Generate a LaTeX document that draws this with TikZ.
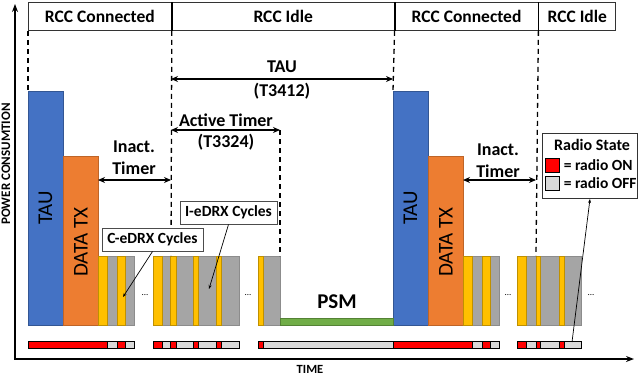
\documentclass[tikz,border=0pt]{standalone}
\usepackage{fontspec}
\setmainfont{Carlito}
\usepackage{xcolor}
\usepackage{tikz}
\usetikzlibrary{arrows.meta, positioning}
\definecolor{taublue}{HTML}{4472C4}
\definecolor{txorange}{HTML}{ED7D31}
\definecolor{rxyellow}{HTML}{FFC000}
\definecolor{sleepgray}{HTML}{A5A5A5}
\definecolor{psmgreen}{HTML}{70AD47}
\definecolor{radioon}{HTML}{FF0000}
\definecolor{radiooff}{HTML}{D9D9D9}
\newcommand{\fsz}[1]{\fontsize{#1}{#1}\selectfont}
\tikzstyle{hdr} = [rectangle, draw=black!80, line width=0.8pt, minimum height=28pt, inner sep=0pt, font=\bfseries\fsz{17.5}]
\tikzstyle{divider} = [draw, line width=1.8pt]
\tikzstyle{guide} = [draw, line width=1.3pt, dash pattern=on 5pt off 4pt]
\tikzstyle{dim} = [draw, line width=1.5pt, {Stealth[length=7pt,width=6pt]}-{Stealth[length=7pt,width=6pt]}]
\tikzstyle{axis} = [draw, line width=1.8pt, {Stealth[length=8pt,width=6pt]}-{Stealth[length=8pt,width=6pt]}]
\tikzstyle{pointer} = [draw, line width=0.7pt, -{Stealth[length=4pt,width=3pt]}]
\tikzstyle{callout} = [rectangle, draw=black!70, line width=1pt, fill=white, minimum height=23pt, inner sep=2pt, font=\bfseries\fsz{15.5}]
\tikzstyle{taubar} = [draw=taublue!75!black, fill=taublue]
\tikzstyle{txbar} = [draw=txorange!80!black, fill=txorange]
\tikzstyle{offbar} = [draw=black!45, fill=sleepgray]
\tikzstyle{onbar} = [draw=rxyellow!75!black, fill=rxyellow]
\tikzstyle{stripoff} = [draw=black, line width=0.6pt, fill=radiooff]
\tikzstyle{stripon} = [draw=black, line width=0.6pt, fill=radioon]
\tikzstyle{bartext} = [font=\fsz{21}, rotate=90]
\tikzstyle{timerlabel} = [font=\bfseries\fsz{18}]
\tikzstyle{dots} = [font=\fsz{9}]

\begin{document}
\begin{tikzpicture}[x=1pt, y=-1pt]
    \useasboundingbox (0,0) rectangle (640,375);

    % Header
    \node [hdr, minimum width=143pt, anchor=north west] (conn1) at (28,2) {RCC Connected};
    \node [hdr, minimum width=222pt, anchor=west] (idle1) at (conn1.east) {RCC Idle};
    \node [hdr, minimum width=143pt, anchor=west] (conn2) at (idle1.east) {RCC Connected};
    \node [hdr, minimum width=77pt, anchor=west] (idle2) at (conn2.east) {RCC Idle};
    \path [divider] (idle1.north west) -- (idle1.south west);
    \path [divider] (conn2.north west) -- (conn2.south west);
    \path [divider] (idle2.north west) -- (idle2.south west);

    % Axes
    \coordinate (ytop) at (15,4);
    \coordinate (origin) at (15,359);
    \coordinate (xend) at (634,359);
    \path [axis] (ytop) -- (origin) -- (xend);
    \node [font=\bfseries\fsz{13}, rotate=90] (ylabel) at (6,164) {POWER CONSUMTION};
    \node [font=\bfseries\fsz{12.5}] (xlabel) at (310,369) {TIME};

    % Bars
    \draw [taubar] (28,91) rectangle (63,325);
    \draw [txbar] (63,156) rectangle (98,325);
    \draw [taubar] (393,91) rectangle (428,325);
    \draw [txbar] (428,156) rectangle (463,325);
    \node [bartext] (tau1) at (45.5,208) {TAU};
    \node [bartext] (tx1) at (81,242) {DATA TX};
    \node [bartext] (tau2) at (410.5,208) {TAU};
    \node [bartext] (tx2) at (446,242) {DATA TX};

    % eDRX cycles
    \draw [offbar] (98,256) rectangle (134,325);
    \draw [offbar] (153,256) rectangle (239,325);
    \draw [offbar] (258,256) rectangle (280,325);
    \draw [offbar] (463,256) rectangle (499,325);
    \draw [offbar] (517,256) rectangle (581,325);
    \foreach \a/\b in {98/107, 117/125, 153/162, 170/176, 193/198, 216/221, 258/263,
                       463/472, 482/490, 517/526, 536/540, 559/564}
        \draw [onbar] (\a,256) rectangle (\b,325);
    \draw [draw=psmgreen!75!black, fill=psmgreen] (280,318) rectangle (393,325);
    \node [font=\bfseries\fsz{21}] (psm) at (337,302) {PSM};
    \node [dots] (dots1) at (145,295) {...};
    \node [dots] (dots2) at (248,295) {...};
    \node [dots] (dots3) at (508,295) {...};
    \node [dots] (dots4) at (591,295) {...};

    % Radio state strip
    \draw [stripoff] (28,341) rectangle (134,348);
    \draw [stripoff] (153,341) rectangle (239,348);
    \draw [stripoff] (258,341) rectangle (499,348);
    \draw [stripoff] (517,341) rectangle (581,348);
    \foreach \a/\b in {28/107, 117/125, 153/162, 170/176, 193/198, 216/221, 258/263,
                       393/472, 482/490, 517/526, 536/540, 559/564}
        \draw [stripon] (\a,341) rectangle (\b,348);

    % State borders
    \path [guide] (conn1.south west) -- (28,91);
    \path [guide] (idle1.south west) -- (171,256);
    \path [guide] (conn2.south west) -- (393,91);
    \path [guide] (idle2.south west) -- (536,256);
    \path [guide] (280,130) -- (280,256);

    % Timers
    \coordinate (tauL) at (171,79);
    \coordinate (tauR) at (393,79);
    \coordinate (actL) at (171,130);
    \coordinate (actR) at (280,130);
    \coordinate (inaL) at (98,180);
    \coordinate (inaR) at (171,180);
    \coordinate (inbL) at (463,180);
    \coordinate (inbR) at (536,180);
    \path [dim] (tauL) -- (tauR);
    \path [dim] (actL) -- (actR);
    \path [dim] (inaL) -- (inaR);
    \path [dim] (inbL) -- (inbR);
    \node [timerlabel] (taulbl) at (282,67) {TAU};
    \node [timerlabel] (tauname) at (282,91) {(T3412)};
    \node [timerlabel] (actlbl) at (226,120) {Active Timer};
    \node [timerlabel] (actname) at (226,142) {(T3324)};
    \node [timerlabel] (inalbl) at (134,147) {Inact.};
    \node [timerlabel] (inaname) at (134,168) {Timer};
    \node [timerlabel] (inblbl) at (498,150) {Inact.};
    \node [timerlabel] (inbname) at (498,171) {Timer};

    % Callouts
    \node [callout, minimum width=101pt] (cedrx) at (152.5,239.5) {C-eDRX Cycles};
    \node [callout, minimum width=97pt] (iedrx) at (228.5,212.5) {I-eDRX Cycles};
    \coordinate (cedrxtip) at (123,297);
    \coordinate (iedrxtip) at (209,289);
    \path [pointer] (cedrx.south) -- (cedrxtip);
    \path [pointer] (iedrx.south) -- (iedrxtip);

    % Legend
    \node [draw=black!80, line width=1pt, fill=white, minimum width=95pt, minimum height=65pt, anchor=north west] (legend) at (542,133) {};
    \node [font=\bfseries\fsz{16}] (legtitle) at (592,145) {Radio State};
    \node [stripon, minimum size=14pt, inner sep=0pt] (onkey) at (552.5,165.5) {};
    \node [stripoff, minimum size=14pt, inner sep=0pt, below=3pt of onkey] (offkey) {};
    \node [font=\bfseries\fsz{15.5}, right=0.5pt of onkey] (ontext) {= radio ON};
    \node [font=\bfseries\fsz{15.5}, right=0.5pt of offkey] (offtext) {= radio OFF};
    \coordinate (legtail) at (572,342);
    \path [pointer] (legtail) -- (legend.south);
\end{tikzpicture}
\end{document}
